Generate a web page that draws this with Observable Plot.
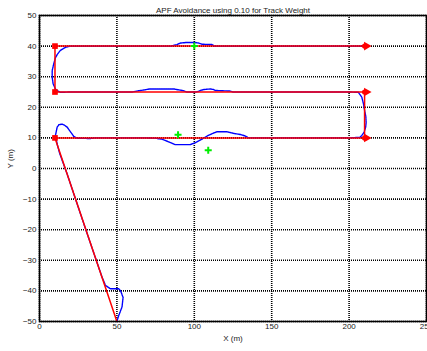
<!DOCTYPE html>
<html>
<head>
<meta charset="utf-8">
<script src="https://cdn.jsdelivr.net/npm/d3@7"></script>
<script src="https://cdn.jsdelivr.net/npm/@observablehq/plot@0.6"></script>
<style>
  html, body { margin: 0; padding: 0; background: #fff; }
</style>
</head>
<body>
<div id="chart"></div>
<script>
const titleText = "APF Avoidance using 0.10 for Track Weight";
const xTicks = [0, 50, 100, 150, 200, 250];
const yTicks = [-50, -40, -30, -20, -10, 0, 10, 20, 30, 40, 50];

// planned track (red)
const trackX = [50, 10, 210, 210, 10, 10, 210];
const trackY = [-50, 10, 10, 25, 25, 40, 40];

// waypoint markers
const startX = [10, 10, 10];
const startY = [10, 25, 40];
const endX = [210, 210, 210];
const endY = [10, 25, 40];

// obstacles (green)
const obsX = [89.5, 109, 100];
const obsY = [11, 6, 40];

// actual path (blue)
const pathX = [50, 51.2, 53.3, 54, 52.3, 51.2, 45.8, 42.6, 40.4, 36, 31, 25, 18, 13, 11.4, 10.3, 11.4, 12.5, 14.6, 16, 17.9, 20, 22.1, 24.3, 33, 36, 69.5, 75, 79, 83, 87.7, 97.4, 101, 106, 109, 112, 114.6, 121, 126, 130, 133, 135, 200, 207, 208.2, 209.7, 210.7, 211, 210.8, 210, 209.3, 208.2, 206, 200, 125, 123.2, 118, 113.5, 112.5, 110.3, 106, 104, 102.8, 101, 95, 93.1, 90, 86.6, 71, 68, 64, 62, 60, 20, 13.5, 11.5, 10.3, 8.8, 8.2, 8.2, 9.2, 10.3, 11.4, 13.5, 16.8, 20, 85, 88.8, 91, 95.3, 100, 102.8, 105, 111.4, 113, 210];
const pathY = [-50, -48, -45.3, -42.1, -39.9, -39.3, -39.3, -38.2, -35.5, -29, -21.6, -12.6, -2, 5, 8, 10.8, 13.5, 14.3, 14.5, 14.2, 13.5, 12, 10.5, 9.9, 9.8, 10, 10, 9.9, 9.6, 8.8, 7.8, 7.8, 8.5, 9.9, 10.8, 11.5, 12, 12, 11.4, 11.1, 10.6, 10, 10, 10.2, 10.8, 11.9, 13.5, 15, 17, 19, 21.1, 23.3, 24.9, 25, 25, 25.3, 25.4, 25.5, 25.8, 26, 25.8, 25.5, 25.2, 25, 25, 25.4, 25.7, 26, 26, 25.7, 25.4, 25.2, 25, 25, 24.9, 25.4, 26, 27.7, 29.8, 32, 34.2, 36.2, 37.2, 38.6, 39.6, 40, 40, 40.5, 41, 41.2, 41.2, 41, 40.6, 40.5, 40, 40];

const track = trackX.map((x, i) => ({x, y: trackY[i]}));
const path = pathX.map((x, i) => ({x, y: pathY[i]}));
const starts = startX.map((x, i) => ({x, y: startY[i]}));
const ends = endX.map((x, i) => ({x, y: endY[i]}));
const obs = obsX.map((x, i) => ({x, y: obsY[i]}));

const chart = Plot.plot({
  width: 427,
  height: 351,
  marginTop: 15,
  marginBottom: 30,
  marginLeft: 39,
  marginRight: 1,
  style: {fontFamily: "'Liberation Sans', Arial, sans-serif", fontSize: "8px", color: "#222", background: "#fff"},
  x: {domain: [0, 250]},
  y: {domain: [-50, 50]},
  marks: [
    Plot.gridX(xTicks, {stroke: "#000", strokeOpacity: 1, strokeWidth: 1.6, strokeDasharray: "1,1"}),
    Plot.gridY(yTicks, {stroke: "#000", strokeOpacity: 1, strokeWidth: 1.6, strokeDasharray: "1,1"}),
    Plot.axisX(xTicks, {tickSize: 0, tickPadding: 2, label: null}),
    Plot.axisY(yTicks, {tickSize: 0, tickPadding: 3, label: null}),
    Plot.line(path, {x: "x", y: "y", stroke: "#0000ff", strokeWidth: 1.4, strokeDasharray: "1.6,0.6"}),
    Plot.line(track, {x: "x", y: "y", stroke: "#ff0000", strokeWidth: 1.5}),
    Plot.dot(starts, {x: "x", y: "y", symbol: "square", r: 3.2, fill: "#ff0000", stroke: "none"}),
    Plot.dot(ends, {x: "x", y: "y", symbol: "circle", r: 2.6, fill: "#ff0000", stroke: "none"}),
    Plot.dot(ends, {x: "x", y: "y", symbol: "triangle", r: 3.2, rotate: 90, dx: 2, fill: "#ff0000", stroke: "none"}),
    Plot.dot(obs, {x: "x", y: "y", symbol: "plus", r: 2.4, stroke: "#00ee00", strokeWidth: 2}),
    Plot.frame({stroke: "#000", strokeWidth: 1.6}),
    Plot.text([titleText], {frameAnchor: "top", dy: -8, fill: "#222", fontSize: 8}),
    Plot.text(["X (m)"], {frameAnchor: "bottom", dy: 19, fill: "#222", fontSize: 8}),
    Plot.text(["Y (m)"], {frameAnchor: "left", dx: -29, rotate: -90, fill: "#222", fontSize: 8})
  ]
});
document.getElementById("chart").appendChild(chart);
</script>
</body>
</html>
